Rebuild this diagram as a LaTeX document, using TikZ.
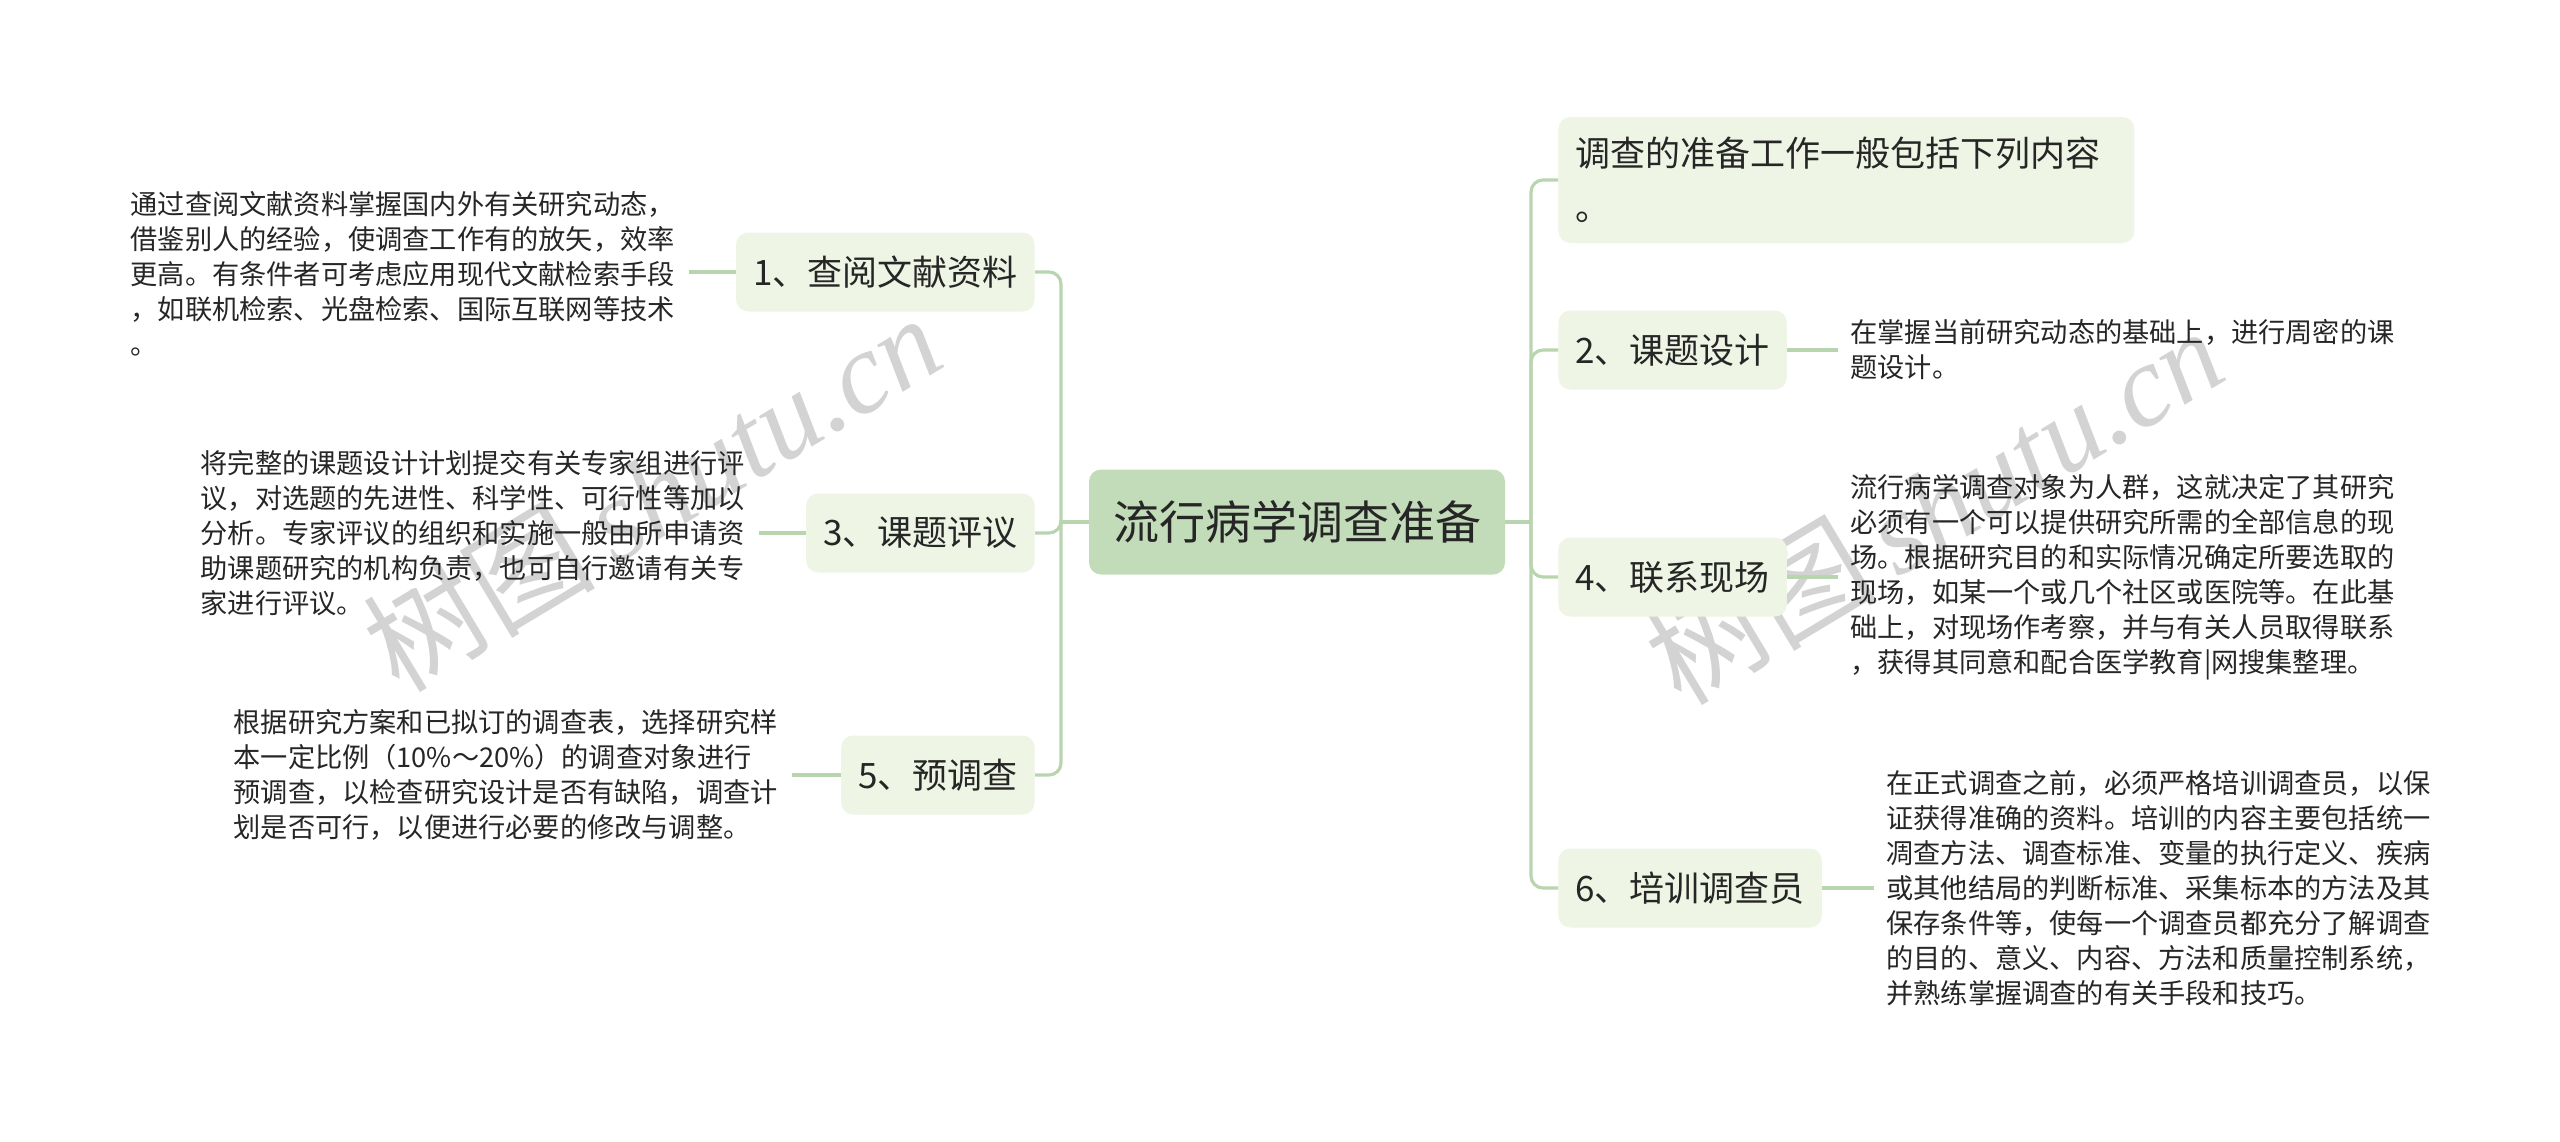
\documentclass[tikz,border=0pt]{standalone}
\usepackage{fontspec}
\newfontfamily\cjk{Noto Sans CJK SC}
\newfontfamily\wmserif{Liberation Serif}
\usetikzlibrary{calc}
\definecolor{conn}{HTML}{B9D5AF}
\definecolor{subfill}{HTML}{EEF5E5}
\definecolor{rootfill}{HTML}{C2DBB9}
\definecolor{txt}{HTML}{262626}
\definecolor{wm}{HTML}{D3D3D3}
\tikzset{
  rootbox/.style={fill=rootfill, rounded corners=6pt, minimum width=208pt, minimum height=52.5pt, inner sep=0pt, text=txt, font=\cjk\fontsize{23pt}{28pt}\selectfont},
  subbox/.style={fill=subfill, rounded corners=6pt, minimum height=39.5pt, inner xsep=8.5pt, inner ysep=0pt, text=txt, font=\cjk\fontsize{17.5pt}{21pt}\selectfont},
  leaf/.style={text width=273pt, align=left, inner xsep=6pt, inner ysep=2pt, text=txt, font=\cjk\fontsize{13.6pt}{17.5pt}\selectfont},
  link/.style={draw=conn, line width=1.6pt, rounded corners=6pt},
  wmark/.style={text=wm, rotate=31, inner sep=0pt}
}
\begin{document}
\begin{tikzpicture}[x=0.5pt, y=-0.5pt]
\useasboundingbox (0,0) rectangle (2560,1141);
\fill[white] (0,0) rectangle (2560,1141);

% watermarks
\node[wmark] (wm1) at (652,492) {\cjk\fontsize{58pt}{64pt}\selectfont 树图\,{\wmserif\itshape shutu.cn}};
\node[wmark] (wm2) at (1934,505) {\cjk\fontsize{58pt}{64pt}\selectfont 树图\,{\wmserif\itshape shutu.cn}};

% root
\node[rootbox] (root) at (1297,522) {流行病学调查准备};

% left branches
\node[subbox, anchor=east] (n1) at (1035,272) {1、查阅文献资料};
\node[subbox, anchor=east] (n3) at (1035,533) {3、课题评议};
\node[subbox, anchor=east] (n5) at (1035,775) {5、预调查};

% right branches
\node[subbox, anchor=west, minimum width=288pt, minimum height=63pt, text width=271pt, align=left, font=\cjk\fontsize{17.5pt}{27pt}\selectfont] (n0) at (1558,180) {调查的准备工作一般包括下列内容\\。};
\node[subbox, anchor=west] (n2) at (1558,350) {2、课题设计};
\node[subbox, anchor=west] (n4) at (1558,577) {4、联系现场};
\node[subbox, anchor=west] (n6) at (1558,888) {6、培训调查员};

% leaves
\node[leaf, anchor=east] (l1) at (689,274) {通过查阅文献资料掌握国内外有关研究动态，\\借鉴别人的经验，使调查工作有的放矢，效率\\更高。有条件者可考虑应用现代文献检索手段\\，如联机检索、光盘检索、国际互联网等技术\\。};
\node[leaf, anchor=east] (l3) at (759,533) {将完整的课题设计计划提交有关专家组进行评\\议，对选题的先进性、科学性、可行性等加以\\分析。专家评议的组织和实施一般由所申请资\\助课题研究的机构负责，也可自行邀请有关专\\家进行评议。};
\node[leaf, anchor=east] (l5) at (792,775) {根据研究方案和已拟订的调查表，选择研究样\\本一定比例（10\%～20\%）的调查对象进行\\预调查，以检查研究设计是否有缺陷，调查计\\划是否可行，以便进行必要的修改与调整。};
\node[leaf, anchor=west] (l2) at (1838,350) {在掌握当前研究动态的基础上，进行周密的课\\题设计。};
\node[leaf, anchor=west] (l4) at (1838,577) {流行病学调查对象为人群，这就决定了其研究\\必须有一个可以提供研究所需的全部信息的现\\场。根据研究目的和实际情况确定所要选取的\\现场，如某一个或几个社区或医院等。在此基\\础上，对现场作考察，并与有关人员取得联系\\，获得其同意和配合医学教育|网搜集整理。};
\node[leaf, anchor=west] (l6) at (1874,888) {在正式调查之前，必须严格培训调查员，以保\\证获得准确的资料。培训的内容主要包括统一\\凋查方法、调查标准、变量的执行定义、疾病\\或其他结局的判断标准、采集标本的方法及其\\保存条件等，使每一个调查员都充分了解调查\\的目的、意义、内容、方法和质量控制系统，\\并熟练掌握调查的有关手段和技巧。};

% trunk junctions
\coordinate (jl) at (1061,522);
\coordinate (jr) at (1531,522);

% connectors root -> branches
\draw[link] (root.west) -- (jl);
\draw[link] (root.east) -- (jr);
\draw[link] (jl) |- (n1.east);
\draw[link] (jl) |- (n3.east);
\draw[link] (jl) |- (n5.east);
\draw[link] (jr) |- (n0.west);
\draw[link] (jr) |- (n2.west);
\draw[link] (jr) |- (n4.west);
\draw[link] (jr) |- (n6.west);

% connectors branches -> leaves
\draw[link] (n1.west) -- (l1.east |- n1.west);
\draw[link] (n3.west) -- (l3.east |- n3.west);
\draw[link] (n5.west) -- (l5.east |- n5.west);
\draw[link] (n2.east) -- (l2.west |- n2.east);
\draw[link] (n4.east) -- (l4.west |- n4.east);
\draw[link] (n6.east) -- (l6.west |- n6.east);
\end{tikzpicture}
\end{document}
